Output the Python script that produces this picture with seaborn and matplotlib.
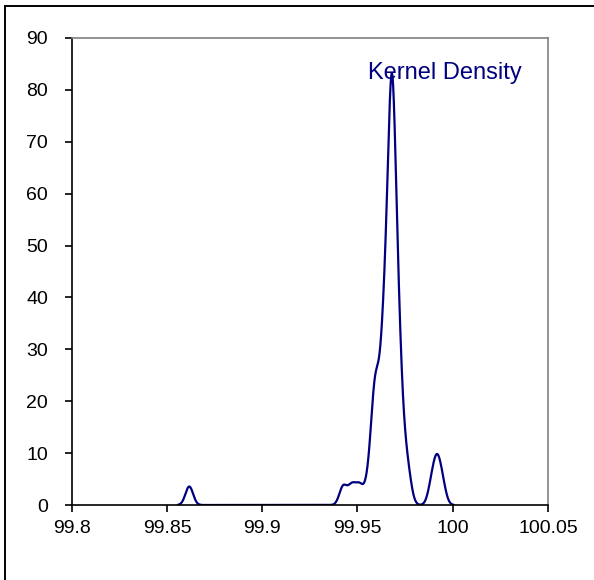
import numpy as np
import matplotlib
matplotlib.use("Agg")
import matplotlib.pyplot as plt
from matplotlib.patches import Rectangle
import seaborn as sns

# Measured purity values (%) and how many samples gave each value
purity_values = [
    99.8617,
    99.9425, 99.9470, 99.9510, 99.9555, 99.9585, 99.9590, 99.9595,
    99.9610, 99.9630, 99.9635, 99.9640, 99.9645, 99.9650, 99.9655,
    99.9675, 99.9680, 99.9695, 99.9700, 99.9710, 99.9715, 99.9725,
    99.9738, 99.9752, 99.9768,
    99.9890, 99.9915, 99.9920, 99.9945,
]
purity_counts = [
    1,
    1, 1, 1, 1, 2, 2, 1,
    2, 2, 1, 1, 2, 2, 2,
    1, 17, 1, 1, 3, 3, 1,
    1, 1, 1,
    1, 1, 1, 1,
]
kernel_sigma = 0.0020

x_ticks = [99.8, 99.85, 99.9, 99.95, 100.0, 100.05]
x_tick_labels = ["99.8", "99.85", "99.9", "99.95", "100", "100.05"]
y_ticks = list(range(0, 91, 10))
series_label = "Kernel Density"

samples = np.repeat(purity_values, purity_counts)
bw_factor = kernel_sigma / np.std(samples, ddof=1)

sns.set_theme(style="white")
plt.rcParams["font.family"] = ["Liberation Sans", "DejaVu Sans"]

fig = plt.figure(figsize=(5.94, 5.8), dpi=100)
ax = fig.add_axes([71.7 / 594, 1 - 505 / 580, (548 - 71.7) / 594, (505 - 38) / 580])

sns.kdeplot(x=samples, bw_method=bw_factor, gridsize=3000, cut=3,
            color="#000080", linewidth=1.6, ax=ax)

ax.set_xlim(x_ticks[0], x_ticks[-1])
ax.set_ylim(0, 90)
ax.set_xticks(x_ticks)
ax.set_xticklabels(x_tick_labels)
ax.set_yticks(y_ticks)
ax.set_xlabel("")
ax.set_ylabel("")

for side in ("left", "bottom"):
    ax.spines[side].set_color("black")
    ax.spines[side].set_linewidth(1.2)
for side in ("top", "right"):
    ax.spines[side].set_color("#808080")
    ax.spines[side].set_linewidth(1.2)

ax.tick_params(axis="both", which="major", direction="out", length=5, width=1.2,
               color="black", labelsize=14, labelcolor="black",
               bottom=True, left=True)
ax.tick_params(axis="y", pad=12)
ax.tick_params(axis="x", pad=6)

ax.text(0.622, 0.9116, series_label, transform=ax.transAxes, ha="left",
        va="baseline", fontsize=17, color="#000080")

# chart frame
fig.patches.append(Rectangle((5 / 594, -0.05), 1.2, (1 - 6 / 580) + 0.05,
                             transform=fig.transFigure, fill=False,
                             edgecolor="black", linewidth=1.4))

fig.savefig("out.png", dpi=100)
